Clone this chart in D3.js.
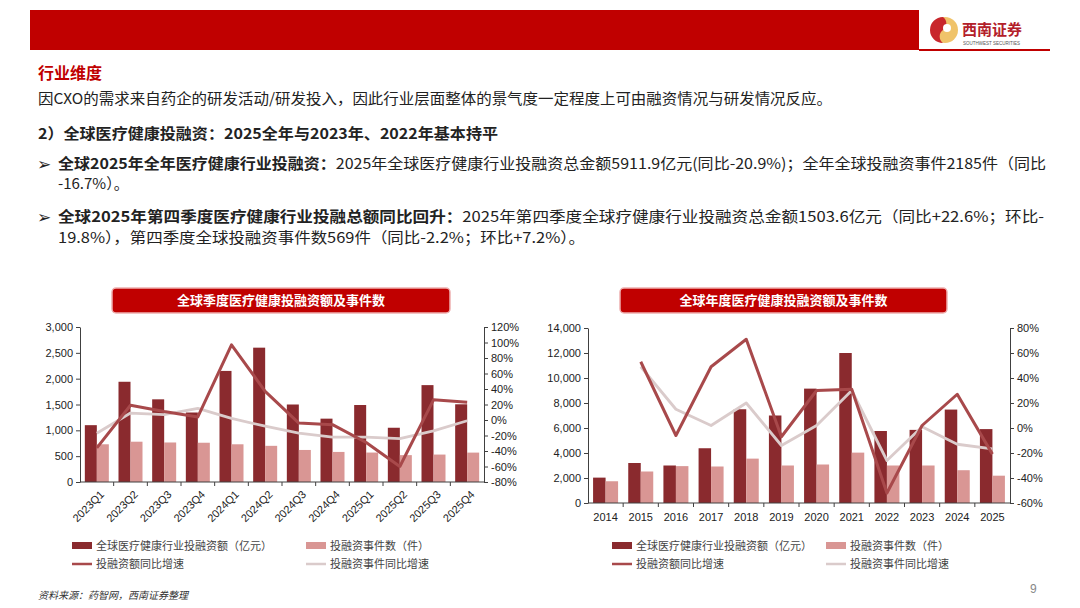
<!DOCTYPE html>
<html>
<head>
<meta charset="utf-8">
<script src="https://cdn.jsdelivr.net/npm/d3@7"></script>
<style>
  body { margin: 0; background: #fff; }
  svg { display: block; font-family: "Liberation Sans", "Noto Sans CJK SC", sans-serif; }
  .cn { font-family: "Noto Sans CJK SC", sans-serif; }
  .axis path, .axis line { stroke: #404040; }
  .axis text { fill: #222; font-size: 11px; font-family: "Liberation Sans", Arial, sans-serif; }
</style>
</head>
<body>
<div id="page"></div>
<script>
// quarterly data
const quarters = ["2023Q1","2023Q2","2023Q3","2023Q4","2024Q1","2024Q2","2024Q3","2024Q4","2025Q1","2025Q2","2025Q3","2025Q4"];
const qAmount = [1100, 1940, 1600, 1345, 2150, 2600, 1500, 1226, 1490, 1050, 1875, 1504];
const qEvents = [730, 780, 765, 760, 730, 700, 620, 582, 570, 520, 531, 569];
const qAmountYoY = [-36, 19, 11, 4, 97, 37, -4, -6, -29, -60, 26, 23];
const qEventsYoY = [-17, 9, 7, 15, 2, -8, -17, -22, -22, -24, -14, -1];

// annual data
const years = ["2014","2015","2016","2017","2018","2019","2020","2021","2022","2023","2024","2025"];
const yAmount = [2030, 3200, 3000, 4380, 7500, 7000, 9150, 12000, 5760, 5850, 7474, 5912];
const yEvents = [1740, 2520, 2950, 2920, 3550, 3000, 3080, 4030, 3000, 3000, 2623, 2185];
const yAmountYoY = [null, 53, -6, 49, 71, -7, 30, 31, -52, 2, 27, -20.9];
const yEventsYoY = [null, 49, 15, 2, 20, -14, 2, 30, -26, 1, -13, -16.7];

const leftTicks = [0, 500, 1000, 1500, 2000, 2500, 3000];
const rightTicksQ = [-80, -60, -40, -20, 0, 20, 40, 60, 80, 100, 120];
const leftTicksY = [0, 2000, 4000, 6000, 8000, 10000, 12000, 14000];
const rightTicksY = [-60, -40, -20, 0, 20, 40, 60, 80];

const legendNames = ["全球医疗健康行业投融资额（亿元）", "投融资事件数（件）", "投融资额同比增速", "投融资事件同比增速"];

const darkBar = "#8a2a2e", pinkBar = "#d99694", darkLine = "#a8494b", lightLine = "#dacbcb";
const red = "#c00000";

const svg = d3.select("#page").append("svg")
    .attr("width", 1080)
    .attr("height", 608);

// header banner
svg.append("rect").attr("x", 30).attr("y", 10).attr("width", 889).attr("height", 40).attr("fill", red);
svg.append("rect").attr("x", 919).attr("y", 49).attr("width", 131).attr("height", 2).attr("fill", red);
// logo
const logo = svg.append("g").attr("transform", "translate(945,30)");
logo.append("circle").attr("r", 13).attr("fill", "#f0c36a");
logo.append("path").attr("d", "M-2,-13 A13,13 0 0,0 -2,13 A8,8 0 0,1 -2,0 A8,8 0 0,0 -2,-13Z").attr("fill", "#c8262c");
logo.append("circle").attr("r", 4).attr("cx", 2).attr("cy", -2).attr("fill", "#fff");
svg.append("text").attr("class", "cn").attr("x", 962).attr("y", 35)
    .attr("font-size", 15).attr("font-weight", "bold").attr("fill", "#b3202a").text("西南证券");
svg.append("text").attr("x", 963).attr("y", 45).attr("font-size", 4.5).attr("fill", "#555")
    .text("SOUTHWEST SECURITIES");

// text block
function line(x, y, parts, size, width) {
    const t = svg.append("text").attr("class", "cn").attr("x", x).attr("y", y)
        .attr("font-size", size).attr("fill", "#222");
    parts.forEach(p => {
        t.append("tspan").attr("font-weight", p.b ? "bold" : "normal")
            .attr("fill", p.c || "#222").text(p.t);
    });
    if (width) t.attr("textLength", width).attr("lengthAdjust", "spacingAndGlyphs");
    return t;
}
line(38, 79, [{t: "行业维度", b: true, c: red}], 16);
line(38, 104, [{t: "因CXO的需求来自药企的研发活动/研发投入，因此行业层面整体的景气度一定程度上可由融资情况与研发情况反应。"}], 15, 794);
line(38, 139, [{t: "2）全球医疗健康投融资：2025全年与2023年、2022年基本持平", b: true}], 15, 460);
svg.append("text").attr("x", 37).attr("y", 170).attr("font-size", 17).attr("fill", "#222").attr("font-family", "DejaVu Sans").text("➢");
line(58, 169, [{t: "全球2025年全年医疗健康行业投融资：", b: true}, {t: "2025年全球医疗健康行业投融资总金额5911.9亿元(同比-20.9%)；全年全球投融资事件2185件（同比"}], 15, 988);
line(58, 189, [{t: "-16.7%）。"}], 15);
svg.append("text").attr("x", 37).attr("y", 223).attr("font-size", 17).attr("fill", "#222").attr("font-family", "DejaVu Sans").text("➢");
line(58, 222, [{t: "全球2025年第四季度医疗健康行业投融总额同比回升：", b: true}, {t: "2025年第四季度全球疗健康行业投融资总金额1503.6亿元（同比+22.6%；环比-"}], 15, 986);
line(58, 243, [{t: "19.8%），第四季度全球投融资事件数569件（同比-2.2%；环比+7.2%）。"}], 15, 527);

// footer
svg.append("text").attr("class", "cn").attr("x", 38).attr("y", 599).attr("font-size", 10)
    .attr("font-style", "italic").attr("fill", "#333").text("资料来源：药智网，西南证券整理");
svg.append("text").attr("x", 1030).attr("y", 593).attr("font-size", 12).attr("fill", "#888").text("9");

function drawChart(cfg) {
    const g = svg.append("g");

    // title box
    g.append("rect").attr("x", cfg.titleX).attr("y", 288).attr("width", cfg.titleW).attr("height", 25)
        .attr("rx", 4).attr("fill", red).attr("stroke", "#eeb0b0").attr("stroke-width", 1.5);
    g.append("text").attr("class", "cn").attr("x", cfg.titleX + cfg.titleW / 2).attr("y", 305)
        .attr("text-anchor", "middle").attr("font-size", 13).attr("font-weight", "bold")
        .attr("fill", "#fff").text(cfg.title);

    const x = d3.scaleBand().domain(cfg.cats).range([cfg.x0, cfg.x1]);
    const y = d3.scaleLinear().domain([0, cfg.yMax]).range([cfg.yBottom, cfg.yTop]);
    const y2 = d3.scaleLinear().domain(cfg.y2Domain).range([cfg.yBottom, cfg.yTop]);
    const bw = cfg.barW;

    // bars
    g.selectAll(".amt").data(cfg.cats).enter().append("rect")
        .attr("x", d => x(d) + x.bandwidth() / 2 - bw)
        .attr("y", (d, i) => y(cfg.amount[i]))
        .attr("width", bw)
        .attr("height", (d, i) => cfg.yBottom - y(cfg.amount[i]))
        .attr("fill", darkBar);
    g.selectAll(".evt").data(cfg.cats).enter().append("rect")
        .attr("x", d => x(d) + x.bandwidth() / 2)
        .attr("y", (d, i) => y(cfg.events[i]))
        .attr("width", bw)
        .attr("height", (d, i) => cfg.yBottom - y(cfg.events[i]))
        .attr("fill", pinkBar);

    // axes
    g.append("g").attr("class", "axis")
        .attr("transform", "translate(" + cfg.x0 + ",0)")
        .call(d3.axisLeft(y).tickValues(cfg.yTicks).tickFormat(d3.format(",")).tickSize(4).tickSizeOuter(0))
        .selectAll("text").attr("font-size", 11);
    g.append("g").attr("class", "axis")
        .attr("transform", "translate(" + cfg.x1 + ",0)")
        .call(d3.axisRight(y2).tickValues(cfg.y2Ticks).tickFormat(d => d + "%").tickSize(4).tickSizeOuter(0))
        .selectAll("text").attr("font-size", 11);

    const xa = g.append("g").attr("class", "axis")
        .attr("transform", "translate(0," + cfg.yBottom + ")")
        .call(d3.axisBottom(x).tickSize(0).tickSizeOuter(0));
    xa.select(".domain").attr("d", "M" + cfg.x0 + ",0H" + cfg.x1);
    // boundary tick marks between categories
    g.selectAll(".btick").data(d3.range(1, cfg.cats.length)).enter().append("line")
        .attr("x1", i => cfg.x0 + i * x.bandwidth()).attr("x2", i => cfg.x0 + i * x.bandwidth())
        .attr("y1", cfg.yBottom).attr("y2", cfg.yBottom + 4)
        .attr("stroke", "#404040");
    if (cfg.rotate) {
        xa.selectAll("text")
            .attr("text-anchor", "end")
            .attr("dy", 0)
            .attr("transform", "translate(6,11) rotate(-45)");
    } else {
        xa.selectAll("text").attr("dy", "1.4em");
    }

    // lines
    const ln = vals => d3.line()
        .defined(d => d != null)
        .x((d, i) => x(cfg.cats[i]) + x.bandwidth() / 2)
        .y(d => y2(d))(vals);
    g.append("path").attr("d", ln(cfg.eventsYoY)).attr("fill", "none")
        .attr("stroke", lightLine).attr("stroke-width", 2.8).attr("stroke-linejoin", "round");
    g.append("path").attr("d", ln(cfg.amountYoY)).attr("fill", "none")
        .attr("stroke", darkLine).attr("stroke-width", 3).attr("stroke-linejoin", "round");

    // legend
    const lg = g.append("g").attr("class", "cn").attr("font-size", 11).attr("fill", "#444");
    const cols = [cfg.legX, cfg.legX + cfg.legGap];
    lg.append("rect").attr("x", cols[0]).attr("y", 542).attr("width", 20).attr("height", 7).attr("fill", darkBar);
    lg.append("rect").attr("x", cols[1]).attr("y", 542).attr("width", 20).attr("height", 7).attr("fill", pinkBar);
    lg.append("line").attr("x1", cols[0]).attr("x2", cols[0] + 20).attr("y1", 564).attr("y2", 564)
        .attr("stroke", darkLine).attr("stroke-width", 2.5);
    lg.append("line").attr("x1", cols[1]).attr("x2", cols[1] + 20).attr("y1", 564).attr("y2", 564)
        .attr("stroke", lightLine).attr("stroke-width", 2.5);
    [[0, 550], [1, 550], [0, 568], [1, 568]].forEach((p, k) => {
        lg.append("text").attr("x", cols[p[0]] + 24).attr("y", p[1]).text(legendNames[k]);
    });
}

drawChart({
    title: "全球季度医疗健康投融资额及事件数",
    titleX: 112, titleW: 338,
    cats: quarters, amount: qAmount, events: qEvents, amountYoY: qAmountYoY, eventsYoY: qEventsYoY,
    x0: 80, x1: 484, yTop: 327, yBottom: 482,
    yMax: 3000, yTicks: leftTicks, y2Domain: [-80, 120], y2Ticks: rightTicksQ,
    barW: 12, rotate: true,
    legX: 72, legGap: 234
});

drawChart({
    title: "全球年度医疗健康投融资额及事件数",
    titleX: 620, titleW: 327,
    cats: years, amount: yAmount, events: yEvents, amountYoY: yAmountYoY, eventsYoY: yEventsYoY,
    x0: 588, x1: 1010, yTop: 328, yBottom: 503,
    yMax: 14000, yTicks: leftTicksY, y2Domain: [-60, 80], y2Ticks: rightTicksY,
    barW: 12.5, rotate: false,
    legX: 612, legGap: 214
});
</script>
</body>
</html>
